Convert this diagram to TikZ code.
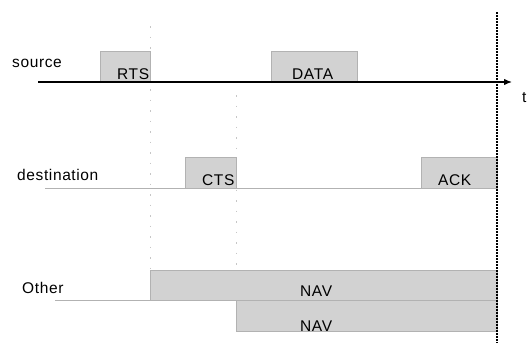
\documentclass[tikz,border=0pt]{standalone}
\usepackage{fontspec}
\setmainfont{Liberation Sans}[LetterSpace=4]
\usetikzlibrary{arrows.meta}
\begin{document}
\begin{tikzpicture}[x=1pt,y=-1pt,
  box/.style={draw=gray!60,line width=0.5pt,fill=gray!35,inner sep=0pt,anchor=north west},
  lbl/.style={inner sep=0pt,anchor=base west,font=\fontsize{15.5}{18}\selectfont},
  faint/.style={draw=gray!45,line width=0.5pt,dash pattern=on 1.5pt off 9pt},
  track/.style={draw=gray!60,line width=0.6pt},
  axis/.style={draw=black,line width=1.3pt,-{Latex[length=8pt,width=6.5pt]}},
  endline/.style={draw=black,line width=1.2pt,dash pattern=on 1.5pt off 1.5pt}]
\useasboundingbox (0,0) rectangle (530,343);
% faint guide lines
\coordinate (g1a) at (150,26); \coordinate (g1b) at (150,270);
\coordinate (g2a) at (236,95); \coordinate (g2b) at (236,300);
\draw[faint] (g1a) -- (g1b);
\draw[faint] (g2a) -- (g2b);
% tracks
\coordinate (d0) at (45,188); \coordinate (d1) at (497,188);
\coordinate (o0) at (55,300); \coordinate (o1) at (497,300);
% boxes
\node[box,minimum width=50pt,minimum height=31pt] (rts) at (100,51) {};
\node[box,minimum width=86pt,minimum height=31pt] (data) at (271,51) {};
\node[box,minimum width=51pt,minimum height=31pt] (cts) at (185,157) {};
\node[box,minimum width=76pt,minimum height=31pt] (ack) at (421,157) {};
\node[box,minimum width=347pt,minimum height=30pt] (nav1) at (150,270) {};
\node[box,minimum width=261pt,minimum height=31pt] (nav2) at (236,300) {};
\draw[track] (d0) -- (d1);
\draw[track] (o0) -- (o1);
% source axis
\coordinate (s0) at (38,82); \coordinate (s1) at (512,82);
\draw[axis] (s0) -- (s1);
% end line
\coordinate (e0) at (497,12); \coordinate (e1) at (497,343);
\draw[endline] (e0) -- (e1);
% labels
\node[lbl] (tsrc) at (12,67) {source};
\node[lbl] (tdst) at (17,180) {destination};
\node[lbl] (toth) at (22,293) {Other};
\node[lbl] (trts) at (117,79.5) {RTS};
\node[lbl] (tdata) at (292,79.5) {DATA};
\node[lbl] (tcts) at (202,185.5) {CTS};
\node[lbl] (tack) at (438,185.5) {ACK};
\node[lbl] (tnav1) at (300,296) {NAV};
\node[lbl] (tnav2) at (300,331) {NAV};
\node[lbl] (tt) at (522,102) {t};
\end{tikzpicture}
\end{document}
